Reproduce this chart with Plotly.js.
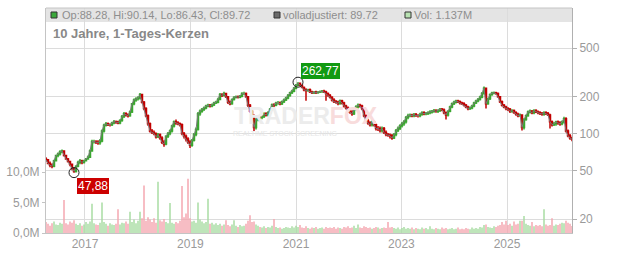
<!DOCTYPE html>
<html><head><meta charset="utf-8">
<script src="https://cdn.plot.ly/plotly-3.0.1.min.js"></script>
<style>html,body{margin:0;padding:0;background:#fff}#chart{width:632px;height:253px}</style>
</head><body><div id="chart"></div>
<script>
// ~2-weekly candles
const START_DATE = '2016-04-06';
const STEP_DAYS = 13.848;

const opens = [62,61,57,55,54,60,66,68,71,72,66,62,59,
 56,52,49,54,58,60,58,60,62,64,72,86,86,
 85,84,87,105,117,120,118,118,122,125,124,122,128,
 138,145,142,140,150,175,188,192,195,208,180,160,140,
 120,105,102,100,94,98,92,85,82,95,100,105,115,
 125,122,120,118,100,95,90,85,80,88,98,108,145,
 152,158,162,168,170,168,172,178,180,190,208,205,212,
 200,180,175,190,198,200,198,202,212,212,200,170,152,
 140,112,130,138,135,138,145,142,148,158,172,170,178,
 178,175,182,188,195,205,215,222,235,248,258,248,238,
 228,225,228,218,215,218,215,218,220,222,218,212,205,
 198,188,182,180,176,185,178,168,162,152,150,145,158,
 165,170,168,160,140,128,122,118,124,118,110,110,106,
 110,102,98,97,96,92,98,106,110,116,120,125,135,
 140,141,140,143,140,140,144,148,145,146,148,150,152,
 154,152,154,158,156,148,142,152,165,175,180,184,182,
 178,175,170,165,160,162,168,178,184,190,198,212,235,
 175,192,208,214,215,212,200,182,170,165,160,158,152,
 154,148,144,140,142,112,130,140,150,152,148,154,150,
 148,146,144,148,146,142,125,118,120,124,122,120,124,
 132,105,96,92];

const highs = [64,62,59,57,61,67,70,73,74,73,67,63,60,
 57,53,55,60,62,61,61,63,66,74,89,89,88,
 88,90,108,120,124,123,121,125,129,128,127,131,142,
 150,149,146,154,178,193,198,202,214,210,184,164,143,
 123,109,106,102,101,100,95,88,97,103,108,118,128,
 130,126,123,121,103,98,93,88,90,101,112,150,157,
 162,166,172,175,174,176,182,185,196,214,213,219,215,
 203,186,193,202,205,205,206,217,220,216,203,174,156,
 143,133,142,142,141,149,149,152,162,176,177,182,184,
 183,186,193,200,210,220,228,240,254,262.77,260,252,242,
 234,232,233,224,222,224,222,225,227,228,224,216,210,
 202,194,188,185,190,189,182,172,166,157,155,162,170,
 176,175,172,164,143,132,126,128,127,121,115,114,114,
 113,106,101,100,99,101,109,114,119,124,129,139,145,
 146,145,147,147,144,148,152,152,150,152,155,156,159,
 158,158,162,162,160,151,155,169,179,185,189,189,186,
 182,180,174,169,166,172,182,189,195,204,218,242,238,
 196,212,219,221,220,216,203,186,174,169,164,162,158,
 157,152,148,146,144,133,143,154,157,156,158,158,154,
 152,150,152,152,150,145,128,124,127,128,126,128,137,
 136,108,99,94];

const lows = [59,56,53,52,53,59,64,66,69,65,61,58,54,
 50,47.88,48,53,56,56,57,59,61,63,71,83,82,
 81,81,85,102,114,115,114,115,119,120,119,119,125,
 134,138,135,137,147,170,182,186,190,176,155,136,116,
 102,99,97,91,92,89,82,78,80,92,97,102,112,
 118,117,114,97,91,86,82,76,78,86,95,106,140,
 148,153,158,164,163,164,168,174,177,187,199,201,195,
 174,170,172,186,193,193,194,198,206,196,165,148,134,
 105,108,126,131,131,134,138,138,144,155,165,167,172,
 170,171,178,184,191,200,210,217,230,243,244,234,222,
 185,220,214,210,210,210,211,214,215,214,185,200,193,
 183,178,175,170,172,173,163,157,147,145,140,142,153,
 160,163,155,136,124,118,114,114,114,106,105,102,102,
 99,95,94,91,89,90,95,103,107,112,116,121,131,
 136,136,136,137,135,136,140,141,141,142,144,146,148,
 148,147,150,152,144,130,138,149,161,171,176,178,173,
 171,166,161,155,156,158,164,174,180,186,194,208,160,
 172,188,204,209,207,196,178,166,161,155,153,147,148,
 145,140,136,137,106,108,127,137,146,144,144,147,144,
 142,140,140,142,139,110,114,115,116,118,116,117,121,
 102,93,89,86.43];

const closes = [61,57,55,54,60,66,68,71,72,66,62,59,56,
 52,49,54,58,60,58,60,62,64,72,86,86,85,
 84,87,105,117,120,118,118,122,125,124,122,128,138,
 145,142,140,150,175,188,192,195,208,180,160,140,120,
 105,102,100,94,98,92,85,82,95,100,105,115,125,
 122,120,118,100,95,90,85,80,88,98,108,145,152,
 158,162,168,170,168,172,178,180,190,208,205,212,200,
 180,175,190,198,200,198,202,212,212,200,170,152,140,
 112,130,138,135,138,145,142,148,158,172,170,178,178,
 175,182,188,195,205,215,222,235,248,258,248,238,228,
 225,228,218,215,218,215,218,220,222,218,212,205,198,
 188,182,180,176,185,178,168,162,152,150,145,158,165,
 170,168,160,140,128,122,118,124,118,110,110,106,110,
 102,98,97,96,92,98,106,110,116,120,125,135,140,
 141,140,143,140,140,144,148,145,146,148,150,152,154,
 152,154,158,156,148,142,152,165,175,180,184,182,178,
 175,170,165,160,162,168,178,184,190,198,212,235,175,
 192,208,214,215,212,200,182,170,165,160,158,152,154,
 148,144,140,142,112,130,140,150,152,148,154,150,148,
 146,144,148,146,142,125,118,120,124,122,120,124,132,
 105,96,92,89.72];

// volume in millions
const volumes = [1.8,1.5,1.2,1.6,1.9,1.4,1.3,1.7,1.5,5.4,1.6,1.4,1.9,
 1.7,2.1,1.5,1.3,1.6,1.2,1.4,1.8,1.5,1.9,4.8,1.6,1.4,
 1.3,1.7,5.0,1.8,1.5,1.2,1.6,1.4,1.3,1.5,3.9,1.4,1.7,
 1.6,1.9,1.5,3.5,1.8,2.2,1.6,2.0,3.5,2.4,7.8,2.0,2.6,
 2.2,1.8,2.4,1.7,8.4,2.1,1.9,2.3,1.8,1.6,4.9,1.7,1.5,
 1.8,1.6,2.0,7.7,2.6,3.2,8.9,2.4,1.9,2.0,1.7,5.0,2.2,
 1.9,1.6,1.8,5.6,1.5,1.7,1.4,1.6,1.3,1.5,1.2,1.4,2.1,
 1.3,1.1,1.4,2.1,1.2,1.0,1.3,1.1,1.2,1.5,2.0,2.9,1.8,
 1.9,1.4,1.2,1.0,0.9,1.1,0.8,1.0,0.9,1.2,2.3,1.0,0.8,
 0.9,0.7,0.8,1.0,0.9,0.8,1.1,0.9,1.2,1.0,1.3,0.9,0.8,
 1.1,0.8,0.7,0.9,0.8,1.0,0.7,0.8,0.9,0.7,1.0,0.8,0.9,
 0.8,1.0,0.7,0.9,0.8,0.7,1.0,0.9,1.1,0.8,0.9,1.2,0.8,
 1.4,0.9,0.8,1.1,1.0,0.8,0.9,0.7,0.8,1.0,0.9,0.7,0.8,
 0.9,0.8,1.8,0.9,1.0,0.8,0.7,0.9,0.6,0.8,1.0,0.7,0.8,
 0.7,0.9,0.6,0.8,0.7,0.6,0.9,0.7,0.8,0.6,1.1,0.7,0.6,
 0.8,0.7,0.6,0.9,0.7,0.8,0.6,0.7,0.8,0.6,0.7,0.9,0.6,
 0.7,0.6,0.8,0.7,0.6,0.9,0.7,0.8,0.7,1.0,0.9,1.3,1.4,
 1.0,0.9,0.8,1.1,1.0,1.2,1.3,1.8,1.4,2.0,1.3,1.5,1.2,
 1.9,1.4,1.5,2.0,2.0,2.8,1.5,1.3,1.2,1.8,1.1,1.3,1.2,
 1.3,1.1,3.9,1.4,1.2,1.3,2.4,1.2,1.4,1.3,1.5,1.7,1.6,
 2.0,1.7,1.5,1.137];

const yearTicks = ['2017-01-01','2019-01-01','2021-01-01','2023-01-01','2025-01-01'];
const yearLabels = ['2017','2019','2021','2023','2025'];
const priceTicks = [20,50,100,200,500];
const priceLabels = ['20','50','100','200','500'];
const volTicks = [0,5,10];
const volLabels = ['0,0M','5,0M','10,0M'];
const chartTitle = '10 Jahre, 1-Tages-Kerzen';
const headerOHLC = 'Op:88.28, Hi:90.14, Lo:86.43, Cl:89.72';
const headerAdj = 'volladjustiert: 89.72';
const headerVol = 'Vol: 1.137M';

const FONT = 'Liberation Sans, Arial, sans-serif';
const t0 = Date.parse(START_DATE + 'T00:00:00Z');
const dates = closes.map((_, i) => t0 + i * STEP_DAYS * 86400000);
const UP = '#3aa72f', DOWN = '#c10000';
const volColors = closes.map((c, i) => c >= opens[i] ? '#a9dca3' : '#f4a7b0');

let iLow = 0, iHigh = 0;
lows.forEach((v, i) => { if (v < lows[iLow]) iLow = i; });
highs.forEach((v, i) => { if (v > highs[iHigh]) iHigh = i; });
const fmt = v => v.toFixed(2).replace('.', ',');

const traces = [
  {type:'bar', x:dates, y:volumes, yaxis:'y2', marker:{color:volColors, line:{width:0}}, hoverinfo:'skip', showlegend:false},
  {type:'scatter', mode:'lines', x:dates, y:closes, line:{color:'#7a7a7a', width:1}, hoverinfo:'skip', showlegend:false},
  {type:'candlestick', x:dates, open:opens, high:highs, low:lows, close:closes,
   increasing:{line:{color:UP, width:1.5}, fillcolor:UP},
   decreasing:{line:{color:DOWN, width:1.5}, fillcolor:DOWN},
   whiskerwidth:0, hoverinfo:'skip', showlegend:false},
  {type:'scatter', mode:'markers', x:[dates[iLow], dates[iHigh]], y:[lows[iLow], highs[iHigh]],
   marker:{symbol:'circle-open', size:10, color:'#222', line:{width:1}}, hoverinfo:'skip', showlegend:false}
];

const pxX = px => px - 46; // pixel offset from plot left
const layout = {
  width:632, height:253,
  margin:{l:46, r:60, t:8, b:20},
  paper_bgcolor:'#fff', plot_bgcolor:'#fff',
  font:{family:FONT, size:12, color:'#9a9a9a'},
  bargap:0.25,
  showlegend:false,
  xaxis:{type:'date', range:[dates[0], dates[dates.length-1]], tickvals:yearTicks, ticktext:yearLabels,
    showgrid:true, gridcolor:'#dcdcdc', gridwidth:1, showline:true, linecolor:'#c4c4c4', ticks:'',
    tickfont:{size:12, color:'#9a9a9a'}, rangeslider:{visible:false}, zeroline:false, fixedrange:true},
  yaxis:{type:'log', side:'right', range:[Math.log10(15.37), Math.log10(1062)], tickvals:priceTicks, ticktext:priceLabels,
    showgrid:true, gridcolor:'#dcdcdc', gridwidth:1, showline:true, linecolor:'#b0b0b0', ticks:'outside', ticklen:4,
    tickcolor:'#b0b0b0', tickfont:{size:12, color:'#9a9a9a'}, zeroline:false, fixedrange:true},
  yaxis2:{overlaying:'y', side:'left', range:[0, 36.9], tickvals:volTicks, ticktext:volLabels,
    showgrid:false, showline:true, linecolor:'#c4c4c4', ticks:'outside', ticklen:3, tickcolor:'#c4c4c4',
    tickfont:{size:12, color:'#9a9a9a'}, zeroline:false, fixedrange:true},
  shapes:[
    {type:'rect', xref:'paper', yref:'paper', x0:0, x1:1, y0:(233-22)/225, y1:1, fillcolor:'#e4e4e4', line:{width:0}, layer:'below'},
    {type:'line', xref:'paper', yref:'paper', x0:0, x1:1, y0:1, y1:1, line:{color:'#c4c4c4', width:1}},
    {type:'rect', xref:'paper', xsizemode:'pixel', xanchor:0, x0:pxX(51), x1:pxX(57), yref:'paper', ysizemode:'pixel', yanchor:1, y0:-10, y1:-4, fillcolor:'#3aa83a', line:{color:'#333', width:1}},
    {type:'rect', xref:'paper', xsizemode:'pixel', xanchor:0, x0:pxX(274), x1:pxX(280), yref:'paper', ysizemode:'pixel', yanchor:1, y0:-10, y1:-4, fillcolor:'#6a6a6a', line:{color:'#333', width:1}},
    {type:'rect', xref:'paper', xsizemode:'pixel', xanchor:0, x0:pxX(405), x1:pxX(411), yref:'paper', ysizemode:'pixel', yanchor:1, y0:-10, y1:-4, fillcolor:'#b8e2b2', line:{color:'#333', width:1}}
  ],
  annotations:[
    {xref:'paper', yref:'paper', x:0, y:1, xshift:pxX(60), yshift:-7, xanchor:'left', yanchor:'middle', showarrow:false, text:headerOHLC, font:{size:11, color:'#8e8e8e'}},
    {xref:'paper', yref:'paper', x:0, y:1, xshift:pxX(281), yshift:-7, xanchor:'left', yanchor:'middle', showarrow:false, text:headerAdj, font:{size:11, color:'#8e8e8e'}},
    {xref:'paper', yref:'paper', x:0, y:1, xshift:pxX(412), yshift:-7, xanchor:'left', yanchor:'middle', showarrow:false, text:headerVol, font:{size:11, color:'#8e8e8e'}},
    {xref:'paper', yref:'paper', x:0, y:1, xshift:pxX(51), yshift:-25, xanchor:'left', yanchor:'middle', showarrow:false, text:'<b>'+chartTitle+'</b>', font:{size:13, color:'#888'}},
    {xref:'paper', yref:'paper', x:(306-46)/526, y:(233-116)/225, xanchor:'center', yanchor:'middle', showarrow:false,
     text:"<b>TRADER<span style='color:#f8dcdc'>FOX</span></b>", font:{size:23, color:'#ececec'}},
    {xref:'paper', yref:'paper', x:(285-46)/526, y:(233-133)/225, xanchor:'center', yanchor:'middle', showarrow:false,
     text:'REALTIME STOCK SCREENING', font:{size:7, color:'#e6e6e6'}},
    {x:dates[iLow], y:Math.log10(lows[iLow]), xref:'x', yref:'y', xanchor:'left', yanchor:'top', xshift:3, yshift:-5, showarrow:false,
     text:fmt(lows[iLow]), bgcolor:'#cc0000', borderwidth:0, borderpad:1, font:{size:12, color:'#fff'}},
    {x:dates[iHigh], y:Math.log10(highs[iHigh]), xref:'x', yref:'y', xanchor:'left', yanchor:'bottom', xshift:3, yshift:3, showarrow:false,
     text:fmt(highs[iHigh]), bgcolor:'#129a12', borderwidth:0, borderpad:1, font:{size:12, color:'#fff'}}
  ]
};

Plotly.newPlot('chart', traces, layout, {staticPlot:true, displayModeBar:false});
</script>
</body></html>
